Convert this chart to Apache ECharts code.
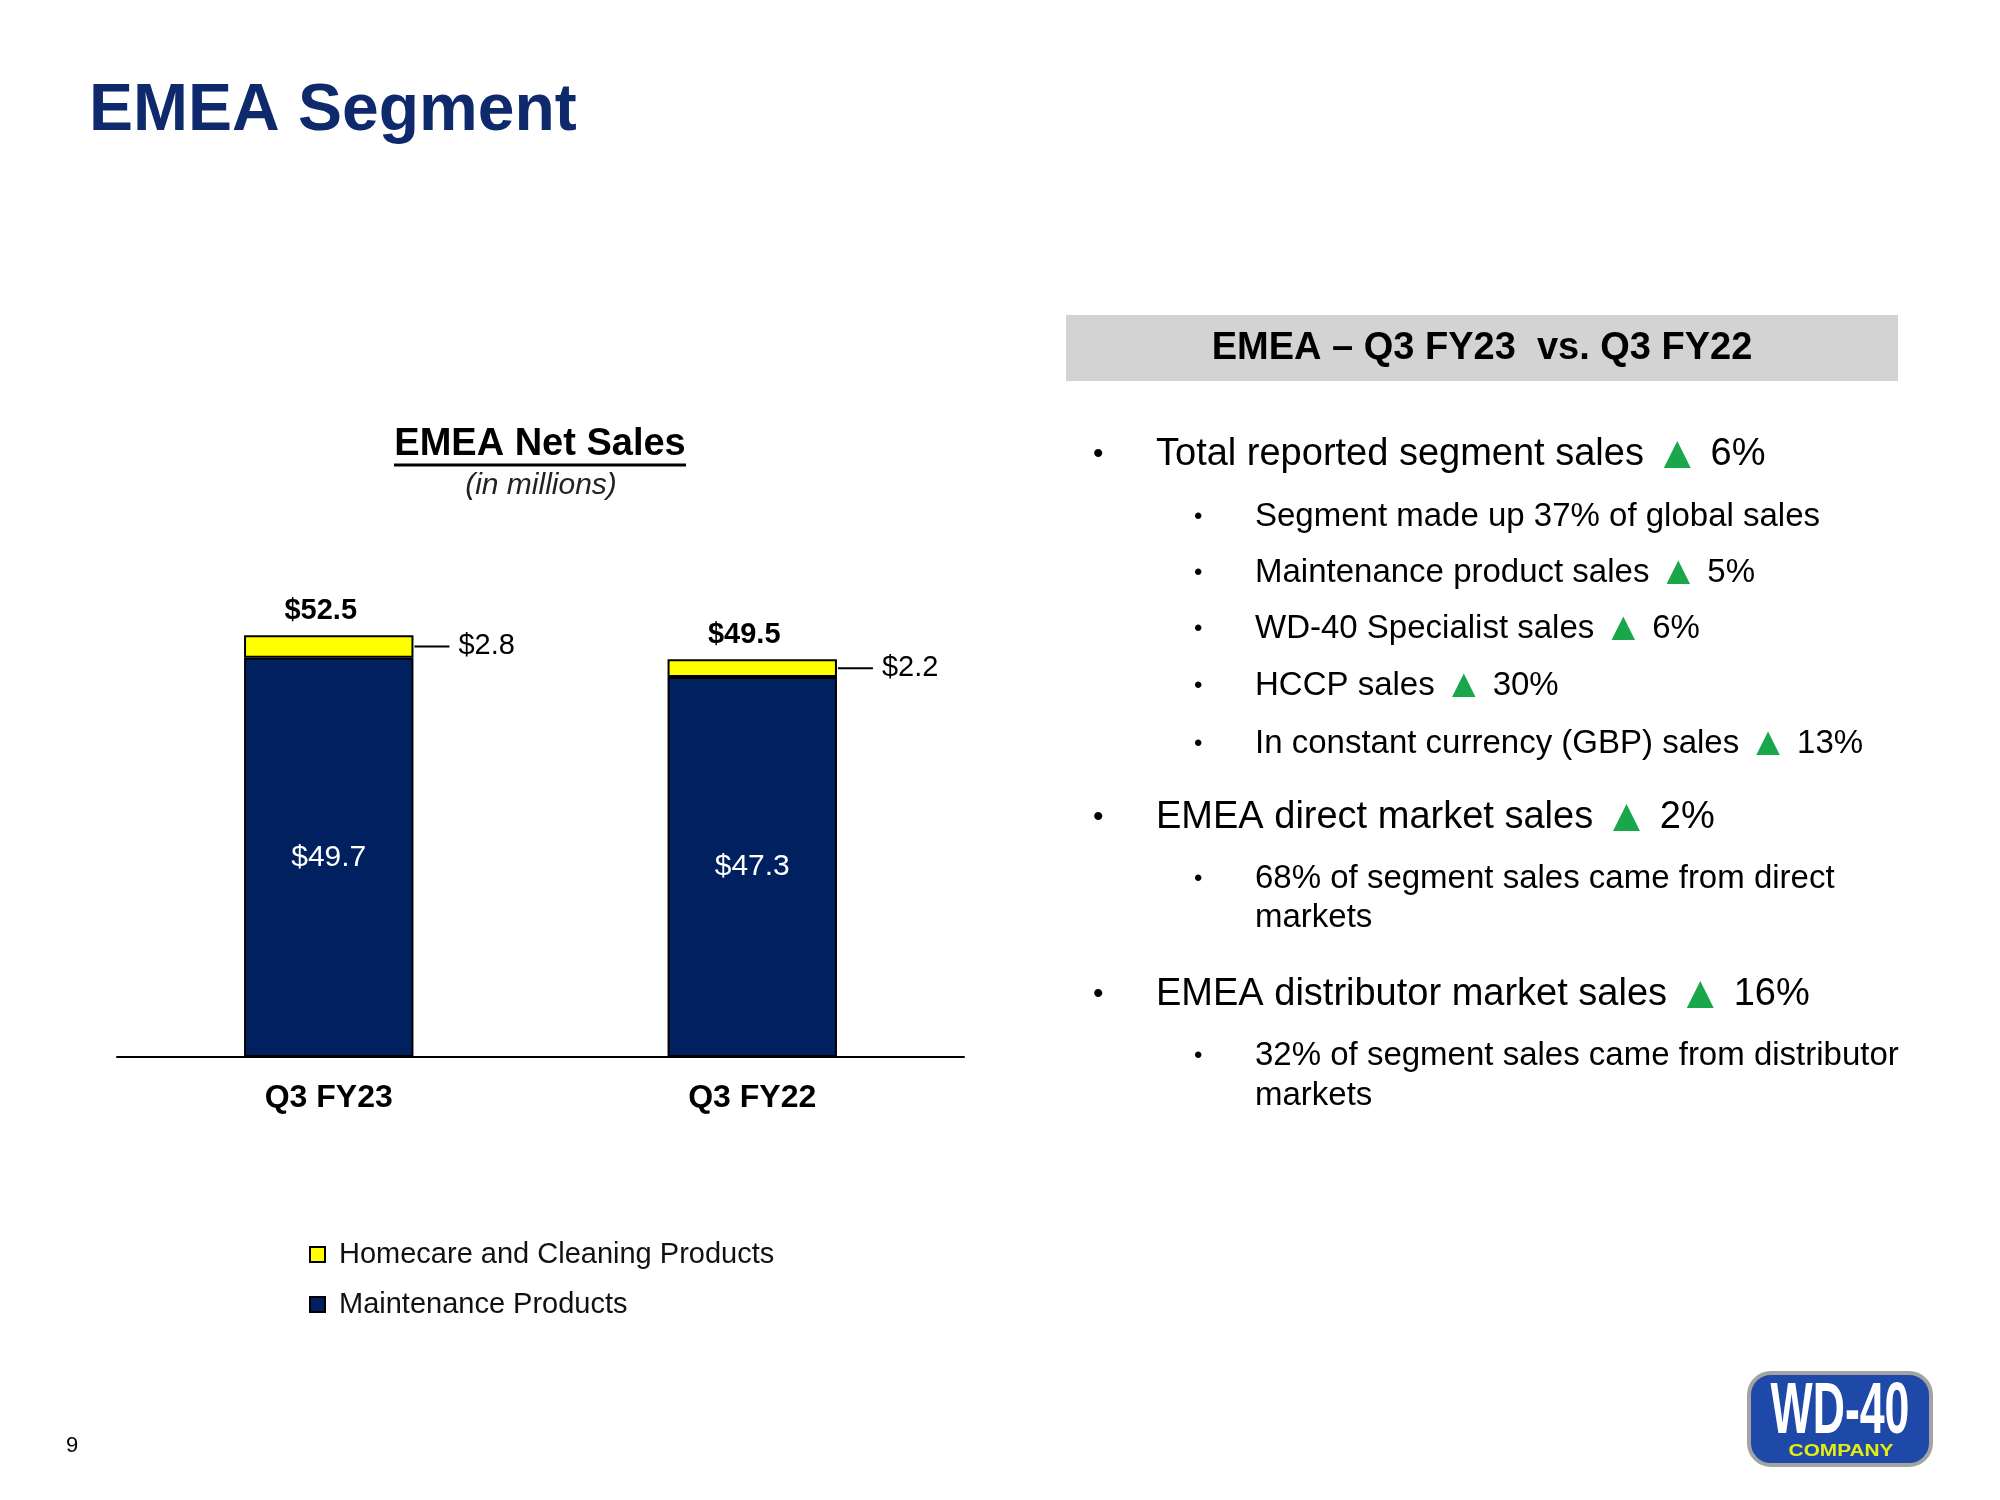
<!DOCTYPE html>
<html>
<head>
<meta charset="utf-8">
<script src="https://cdn.jsdelivr.net/npm/echarts@6/dist/echarts.min.js"></script>
<style>
  html, body { margin: 0; padding: 0; background: #fff; }
  #main { width: 2000px; height: 1500px; }
</style>
</head>
<body>
<div id="main"></div>
<script>
// ---- data ----
const categories = ['Q3 FY23', 'Q3 FY22'];
const seriesNames = ['Homecare and Cleaning Products', 'Maintenance Products'];
const maintenance = [49.7, 47.3];
const homecare = [2.8, 2.2];
const totals = [52.5, 49.5];

const pageTitle = 'EMEA Segment';
const chartTitle = 'EMEA Net Sales';
const chartSubtitle = '(in millions)';
const panelHeader = 'EMEA \u2013 Q3 FY23  vs. Q3 FY22';
const bulletLines = [
  { level: 1, text: 'Total reported segment sales', up: '6%' },
  { level: 2, text: 'Segment made up 37% of global sales' },
  { level: 2, text: 'Maintenance product sales', up: '5%' },
  { level: 2, text: 'WD-40 Specialist sales', up: '6%' },
  { level: 2, text: 'HCCP sales', up: '30%' },
  { level: 2, text: 'In constant currency (GBP) sales', up: '13%' },
  { level: 1, text: 'EMEA direct market sales', up: '2%' },
  { level: 2, text: '68% of segment sales came from direct' },
  { level: 0, text: 'markets' },
  { level: 1, text: 'EMEA distributor market sales', up: '16%' },
  { level: 2, text: '32% of segment sales came from distributor' },
  { level: 0, text: 'markets' }
];
const pageNumber = '9';

// ---- layout ----
const FONT = "'Liberation Sans', Arial, Helvetica, sans-serif";
const NAVY = '#00205f';
const YELLOW = '#ffff00';
const GREEN = '#1aa64b';
const lineY = [455, 517, 573, 629, 686, 744, 818, 879, 918, 995, 1056, 1096];

function txt(x, y, text, size, extra) {
  return {
    type: 'text', x: x, y: y, silent: true,
    style: Object.assign({
      text: text, fontSize: size, fontFamily: FONT, fill: '#000',
      align: 'left', verticalAlign: 'middle'
    }, extra || {})
  };
}

const graphics = [];
graphics.push(txt(89, 112, pageTitle, 66, { fontWeight: 'bold', fill: '#0f2a6c' }));
graphics.push(txt(540, 445, chartTitle, 38, { fontWeight: 'bold', align: 'center' }));
graphics.push({ type: 'line', silent: true, shape: { x1: 394, y1: 465, x2: 686, y2: 465 }, style: { stroke: '#000', lineWidth: 3 } });
graphics.push(txt(541, 486, chartSubtitle, 30, { fontStyle: 'italic', align: 'center', fill: '#222' }));

// panel header
graphics.push({ type: 'rect', silent: true, shape: { x: 1066, y: 315, width: 832, height: 66 }, style: { fill: '#d3d3d3' } });
graphics.push(txt(1482, 349, panelHeader, 38, { fontWeight: 'bold', align: 'center' }));

bulletLines.forEach(function (b, i) {
  const y = lineY[i];
  const size = b.level === 1 ? 38 : 33;
  const textX = b.level === 1 ? 1156 : 1255;
  if (b.level === 1) graphics.push(txt(1093, y, '\u2022', 30));
  if (b.level === 2) graphics.push(txt(1194, y, '\u2022', 24));
  const content = b.up ? b.text + ' {up|\u25B2} ' + b.up : b.text;
  graphics.push(txt(textX, y, content, size, {
    rich: { up: { fontSize: Math.round(size * 1.2), fill: GREEN, fontFamily: FONT, verticalAlign: 'middle' } }
  }));
});

graphics.push(txt(66, 1446, pageNumber, 22));

// logo
graphics.push({
  type: 'rect', silent: true,
  shape: { x: 1749, y: 1373, width: 182, height: 92, r: 22 },
  style: { fill: '#1f49a8', stroke: '#a3a3a3', lineWidth: 4 }
});
graphics.push({
  type: 'text', x: 1840, y: 1413, scaleX: 0.62, silent: true,
  style: { text: 'WD-40', fontSize: 72, fontWeight: 'bold', fontFamily: FONT, fill: '#ffffff', align: 'center', verticalAlign: 'middle' }
});
graphics.push({
  type: 'text', x: 1841, y: 1452, scaleX: 1.3, silent: true,
  style: { text: 'COMPANY', fontSize: 16, fontWeight: 'bold', fontFamily: FONT, fill: '#e4ee12', align: 'center', verticalAlign: 'middle' }
});

const chart = echarts.init(document.getElementById('main'));
chart.setOption({
  backgroundColor: '#ffffff',
  animation: false,
  textStyle: { fontFamily: FONT },
  grid: { left: 117, right: 1036, top: 575, bottom: 443 },
  legend: {
    data: seriesNames,
    orient: 'vertical',
    left: 304,
    top: 1235,
    itemWidth: 15,
    itemHeight: 15,
    itemGap: 21,
    icon: 'rect',
    textStyle: { fontSize: 29, color: '#111', fontFamily: FONT, padding: [0, 0, 0, 9] }
  },
  xAxis: {
    type: 'category',
    data: categories,
    axisLine: { lineStyle: { color: '#000', width: 2 } },
    axisTick: { show: false },
    axisLabel: { fontSize: 32, fontWeight: 'bold', color: '#000', margin: 25, fontFamily: FONT }
  },
  yAxis: {
    type: 'value', min: 0, max: 60, show: false,
    splitLine: { show: false }
  },
  series: [
    {
      name: seriesNames[1], type: 'bar', stack: 'sales', data: maintenance, barWidth: '40%',
      itemStyle: { color: NAVY, borderColor: '#000', borderWidth: 2 },
      label: {
        show: true, position: 'inside', color: '#fff', fontSize: 30, fontFamily: FONT,
        formatter: function (p) { return '$' + p.value.toFixed(1); }
      }
    },
    {
      name: seriesNames[0], type: 'bar', stack: 'sales', data: homecare, barWidth: '40%',
      itemStyle: { color: YELLOW, borderColor: '#000', borderWidth: 2 },
      label: {
        show: true, position: 'right', distance: 1,
        formatter: function (p) { return '{l|}{v|$' + p.value.toFixed(1) + '}'; },
        rich: {
          l: { width: 35, height: 2, backgroundColor: '#000', verticalAlign: 'middle' },
          v: { fontSize: 29, color: '#000', fontFamily: FONT, padding: [0, 0, 0, 9], verticalAlign: 'middle' }
        }
      }
    },
    {
      name: 'Total', type: 'scatter', data: totals, symbolSize: 0, silent: true,
      itemStyle: { opacity: 1 },
      label: {
        show: true, position: 'top', distance: 10, offset: [-8, 0],
        fontSize: 29, fontWeight: 'bold', color: '#000', fontFamily: FONT,
        formatter: function (p) { return '$' + p.value.toFixed(1); }
      }
    }
  ],
  graphic: graphics
});
</script>
</body>
</html>
